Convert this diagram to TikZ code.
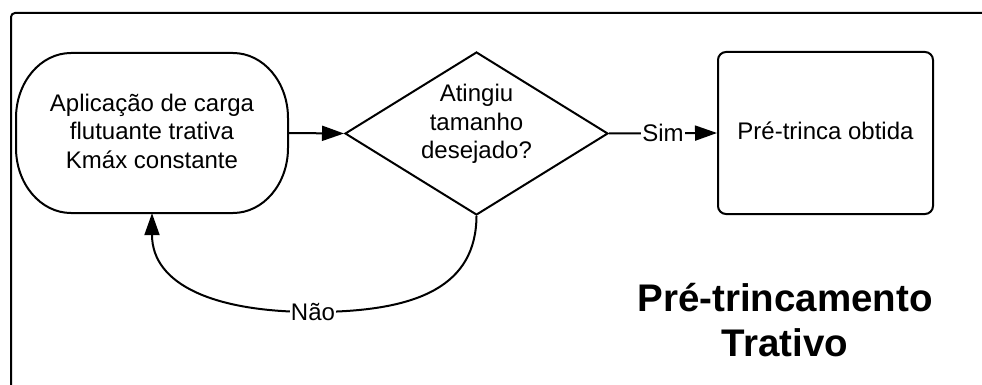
\documentclass[tikz,border=0pt]{standalone}
\usepackage{fontspec}
\setmainfont{Liberation Sans}
\usetikzlibrary{arrows.meta,shapes.geometric,calc}

\tikzset{
  flow/.style={line width=2pt},
  arr/.style={flow,-{Triangle[length=22pt,width=15pt]}},
  txt/.style={font=\fontsize{24}{28.5}\selectfont,align=center,inner sep=0pt},
  lbl/.style={font=\fontsize{24}{28}\selectfont,fill=white,inner sep=1pt},
  terminal/.style={rectangle,minimum width=272pt,minimum height=160pt},
  decision/.style={flow,draw,diamond,aspect=1.6,inner sep=0pt,minimum width=263pt,minimum height=163pt},
  process/.style={flow,draw,rectangle,rounded corners=8pt,minimum width=215pt,minimum height=162pt},
}

\begin{document}
\begin{tikzpicture}[x=1pt,y=-1pt]
  \useasboundingbox (0,0) rectangle (982,385);
  \clip (0,0) rectangle (982,385);

  % outer frame, open to the right and bottom
  \draw[flow,rounded corners=4pt] (11,400) |- (1000,13);

  % start terminal with elliptical ends
  \node[terminal] (start) at (152,133) {};
  \draw[flow] (71,53) -- (233,53)
    .. controls (263.4,53) and (288,82.1) .. (288,118) -- (288,148)
    .. controls (288,183.9) and (263.4,213) .. (233,213) -- (71,213)
    .. controls (40.6,213) and (16,183.9) .. (16,148) -- (16,118)
    .. controls (16,82.1) and (40.6,53) .. (71,53) -- cycle;
  \node[txt] (startText) at (152,131) {Aplicação de carga\\flutuante trativa\\Kmáx constante};

  \node[decision] (check) at (476.5,133.5) {};
  \node[txt] (checkText) at (476.5,124) {Atingiu\\tamanho\\desejado?};

  \node[process] (done) at (825.5,133) {};
  \node[txt] (doneText) at (825.5,131) {Pré-trinca obtida};

  % connectors
  \draw[arr] (start.east) -- (check.west);
  \draw[arr] (check.east) -- node[lbl] {Sim} (done.west);
  \draw[arr] (check.south) .. controls (476,285) and (420,312) .. (313,312)
      node[lbl] {Não}
      .. controls (215,312) and (152,285) .. (start.south);

  % title
  \node[font=\fontsize{38.5}{45}\selectfont\bfseries,align=center] (title) at (785,320) {Pré-trincamento\\Trativo};
\end{tikzpicture}
\end{document}
